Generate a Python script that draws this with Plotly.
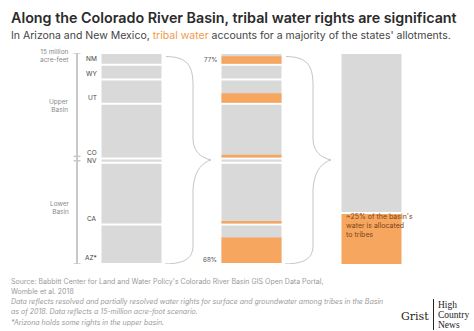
import plotly.graph_objects as go

# ---------------- data ----------------
states = ["NM", "WY", "UT", "CO", "NV", "CA", "AZ*"]
allocation_maf = [0.84, 1.05, 1.725, 3.88, 0.3, 4.4, 2.8]   # million acre-feet (15 MAF scenario)
tribal_share_pct = [77, 0, 43, 5, 0, 3, 68]                 # share of each state's allotment held by tribes
basin_labels = ["Upper<br>Basin", "Lower<br>Basin"]
basin_tribal_label = "~25% of the basin's<br>water is allocated<br>to tribes"
total_maf = 15
upper_basin_maf = 7.5

# ---------------- geometry ----------------
FW, FH = 474, 331
L, R, T, B = 60, 30, 53, 67
W, H = FW - L - R, FH - T - B
col_px = [131.5, 251.5, 371.5]
unit_px = col_px[1] - col_px[0]
xr0 = (L - col_px[0]) / unit_px
xr1 = xr0 + W / unit_px

def px2x(px):
    return xr0 + (px - L) / unit_px

def py2y(py):
    return (py - T) / H * total_maf

def pxp(px):
    return (px - L) / W

def pyp(py):
    return 1 - (py - T) / H

gap = 2 * total_maf / H

GRAY = "#d9d9d9"
ORANGE = "#f7a660"
AXIS = "#c8c8c8"
FONT = "Inter, Liberation Sans, sans-serif"

starts = []
acc = 0
for a in allocation_maf:
    starts.append(acc)
    acc += a
ends = [s + a for s, a in zip(starts, allocation_maf)]

fig = go.Figure()

# left column: state allotments
fig.add_trace(go.Bar(
    x=[0] * len(states), base=[s + gap / 2 for s in starts],
    y=[a - gap for a in allocation_maf], width=0.5,
    marker=dict(color=GRAY, line=dict(width=0)), hoverinfo="skip", showlegend=False))

# middle column: gray state bars
fig.add_trace(go.Bar(
    x=[1] * len(states), base=[s + gap / 2 for s in starts],
    y=[a - gap for a in allocation_maf], width=0.5,
    marker=dict(color=GRAY, line=dict(width=0)), hoverinfo="skip", showlegend=False))

# middle column: tribal part at bottom of each state bar
trib_h = [(a - gap) * p / 100 for a, p in zip(allocation_maf, tribal_share_pct)]
fig.add_trace(go.Bar(
    x=[1] * len(states), base=[e - gap / 2 - t for e, t in zip(ends, trib_h)],
    y=trib_h, width=0.5,
    marker=dict(color=ORANGE, line=dict(width=0)), hoverinfo="skip", showlegend=False))

# right column: basin total
tribal_total = sum(a * p / 100 for a, p in zip(allocation_maf, tribal_share_pct))
fig.add_trace(go.Bar(
    x=[2], base=[gap / 2], y=[total_maf - tribal_total - gap], width=0.5,
    marker=dict(color=GRAY, line=dict(width=0)), hoverinfo="skip", showlegend=False))
fig.add_trace(go.Bar(
    x=[2], base=[total_maf - tribal_total + gap / 2], y=[tribal_total - gap / 2], width=0.5,
    marker=dict(color=ORANGE, line=dict(width=0)), hoverinfo="skip", showlegend=False))

shapes = []
# left scale axis
ax_x = px2x(77)
shapes.append(dict(type="line", xref="x", yref="y", x0=ax_x, x1=ax_x, y0=0, y1=total_maf,
                   line=dict(color=AXIS, width=2)))
for yv in [0, total_maf, upper_basin_maf - 0.15, upper_basin_maf + 0.16]:
    shapes.append(dict(type="line", xref="x", yref="y", x0=px2x(73.5), x1=px2x(80.5), y0=yv, y1=yv,
                       line=dict(color=AXIS, width=1.5)))

# braces
def brace(x0):
    pts = [("M", [(x0, 56.5)]),
           ("C", [(x0 + 20, 57), (x0 + 27, 64), (x0 + 27, 85)]),
           ("L", [(x0 + 27, 138)]),
           ("C", [(x0 + 27, 150), (x0 + 33, 157), (x0 + 45, 160)]),
           ("C", [(x0 + 35, 163), (x0 + 28, 172), (x0 + 27, 190)]),
           ("L", [(x0 + 27, 245)]),
           ("C", [(x0 + 27, 258), (x0 + 20, 263.5), (x0 - 1, 264)])]
    s = ""
    for cmd, ps in pts:
        s += cmd + " " + " ".join(f"{px2x(a):.4f},{py2y(b):.4f}" for a, b in ps) + " "
    return s.strip()

for bx in [166, 286]:
    shapes.append(dict(type="path", xref="x", yref="y", path=brace(bx),
                       line=dict(color="#c4c4c4", width=1)))

ann = []
def text(px, py, t, size=7, color="#444", xa="left", ya="middle", **kw):
    ann.append(dict(x=pxp(px), y=pyp(py), xref="paper", yref="paper", text=t, showarrow=False,
                    xanchor=xa, yanchor=ya, align=xa if xa != "center" else "center",
                    font=dict(size=size, color=color, family=kw.pop("family", FONT),
                              weight=kw.pop("weight", "normal"), style=kw.pop("style", "normal")),
                    **kw))

# title / subtitle
text(9, 17, "Along the Colorado River Basin, tribal water rights are significant", size=14.3,
     color="#2b2b2b", weight=600)
text(9, 35.5, "In Arizona and New Mexico, <span style='color:#f29a4a'>tribal water</span> "
     "accounts for a majority of the states' allotments.", size=10.5, color="#444")

# state labels (anchored near the bottom of each bar, nudged apart if crowded)
prev = -100
for st, e in zip(states, ends):
    yc = 53 + (e - gap / 2) / total_maf * H - 4.5
    yc = max(yc, prev + 8.5)
    prev = yc
    text(99, yc, st, size=6.5, color="#444", xa="right")

text(71, 56, "15 million<br>acre-feet", size=6.5, color="#8a8a8a", xa="right")
text(71, 106, basin_labels[0], size=6.5, color="#8a8a8a", xa="right")
text(71, 207.5, basin_labels[1], size=6.5, color="#8a8a8a", xa="right")

# percentages
text(219, 60, f"{tribal_share_pct[0]}%", size=6.3, color="#555", xa="right")
text(219, 260, f"{tribal_share_pct[6]}%", size=6.3, color="#555", xa="right")

# right bar annotation
text(343.5, 225, basin_tribal_label, size=7, color="#7a4516", xa="left")

# footer
GR = "#9a9a9a"
FS = 7
text(9, 281, "Source: Babbitt Center for Land and Water Policy's Colorado River Basin GIS Open Data Portal,",
     size=FS, color=GR)
text(9, 291, "Womble et al. 2018", size=FS, color=GR)
text(9, 301.5, "Data reflects resolved and partially resolved water rights for surface and groundwater among tribes in the Basin",
     size=FS, color=GR, style="italic")
text(9, 311.5, "as of 2018. Data reflects a 15-million acre-foot scenario.", size=FS, color=GR, style="italic")
text(9, 322.5, "*Arizona holds some rights in the upper basin.", size=FS, color=GR, style="italic")

# logo
text(431, 316, "Grist", size=11, color="#222", xa="right", family="DejaVu Serif")
shapes.append(dict(type="line", xref="paper", yref="paper", x0=pxp(433.5), x1=pxp(433.5),
                   y0=pyp(299), y1=pyp(330), line=dict(color="#222", width=1)))
for i, w in enumerate(["High", "Country", "News"]):
    text(436, 305 + i * 9.8, w, size=9.5, color="#222", family="Liberation Serif")

fig.update_layout(
    width=FW, height=FH, barmode="overlay",
    margin=dict(l=L, r=R, t=T, b=B, pad=0),
    paper_bgcolor="white", plot_bgcolor="white",
    xaxis=dict(range=[xr0, xr1], visible=False, fixedrange=True),
    yaxis=dict(range=[total_maf, 0], visible=False, fixedrange=True),
    shapes=shapes, annotations=ann, showlegend=False,
)

fig.write_html("out.html", config={"displayModeBar": False})
